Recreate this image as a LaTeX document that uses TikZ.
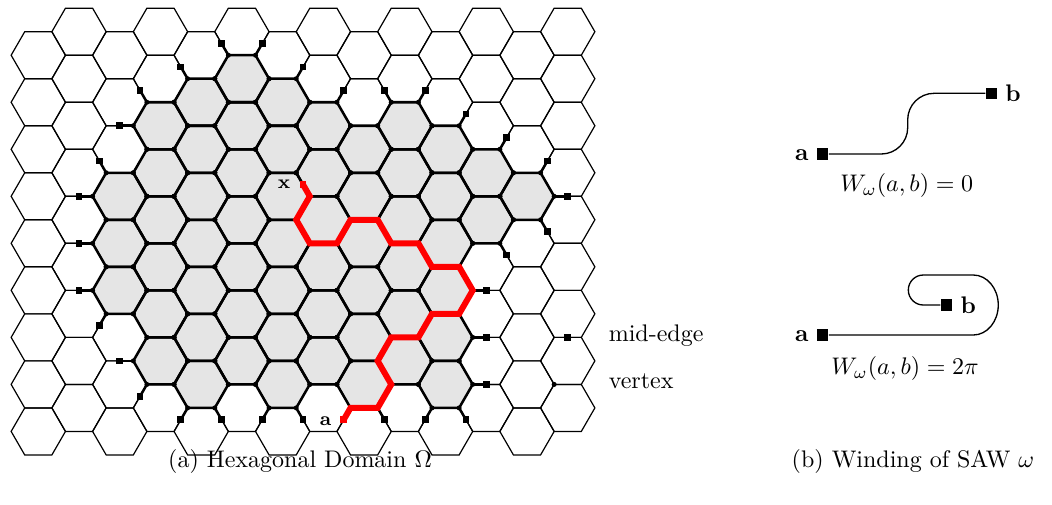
\documentclass[tikz,border=0pt]{standalone}
\usetikzlibrary{calc}
\begin{document}
\begin{tikzpicture}[x=0.41667pt,y=-0.41667pt,
  lat/.style={line width=0.5pt},
  boldedge/.style={line width=1.05pt},
  hexfill/.style={fill=black!10},
  redpath/.style={red,line width=2.5pt},
  sq/.style={rectangle,fill=black,inner sep=0pt,minimum size=2.8pt},
  redsq/.style={sq,fill=red},
  bsq/.style={rectangle,fill=black,inner sep=0pt,minimum size=4.8pt},
  curve/.style={line width=0.55pt},
  hexlbl/.style={font=\footnotesize\bfseries,inner sep=0pt,anchor=base},
  lbl/.style={inner sep=0pt,anchor=base}]
\useasboundingbox (0,0) rectangle (1052,504);
\def\hs{27.15}
% lattice coordinates
\foreach \c in {0,...,13}{
  \foreach \j in {0,...,8}{
    \pgfmathsetmacro\cx{38.3+40.725*\c}
    \pgfmathsetmacro\cy{31.7+23.513*(1-mod(\c,2))+47.026*\j}
    \coordinate (c-\c-\j) at (\cx,\cy);
    \foreach \k in {0,...,5}{
      \pgfmathsetmacro\vx{\cx+\hs*cos(60*\k)}
      \pgfmathsetmacro\vy{\cy-\hs*sin(60*\k)}
      \coordinate (v-\c-\j-\k) at (\vx,\vy);
    }
  }
}
\def\shaded{2/3/5,3/2/7,4/1/7,5/1/7,6/1/7,7/2/7,8/2/7,9/2/7,10/2/7,11/3/4,12/3/3}
% domain fill
\foreach \c/\a/\b in \shaded{
  \foreach \j in {\a,...,\b}{
    \fill[hexfill] (v-\c-\j-0) -- (v-\c-\j-1) -- (v-\c-\j-2) -- (v-\c-\j-3) -- (v-\c-\j-4) -- (v-\c-\j-5) -- cycle;
  }
}
% thin lattice
\foreach \c in {0,...,13}{
  \foreach \j in {0,...,8}{
    \draw[lat] (v-\c-\j-0) -- (v-\c-\j-1) -- (v-\c-\j-2) -- (v-\c-\j-3) -- (v-\c-\j-4) -- (v-\c-\j-5) -- cycle;
  }
}
% bold domain edges
\foreach \c/\a/\b in \shaded{
  \foreach \j in {\a,...,\b}{
    \draw[boldedge] (v-\c-\j-0) -- (v-\c-\j-1) -- (v-\c-\j-2) -- (v-\c-\j-3) -- (v-\c-\j-4) -- (v-\c-\j-5) -- cycle;
  }
}
% boundary half-edges
\def\ext{2/3/2,2/3/3,2/4/3,2/5/3,2/5/4,3/2/2,3/2/3,3/7/3,3/7/4,4/1/2,4/7/4,4/7/5,5/1/1,5/1/2,6/1/1,6/7/4,6/7/5,7/2/1,8/7/5,9/2/1,9/2/2,10/2/1,10/5/0,10/6/0,10/7/0,10/7/4,10/7/5,11/3/1,11/4/5,12/3/0,12/3/1,12/3/5,8/7/4}
\foreach \c/\j/\k in \ext{
  \draw[boldedge] (v-\c-\j-\k) -- ($(c-\c-\j)!1.5!(v-\c-\j-\k)$);
}
% vertex dots
\foreach \c/\a/\b in \shaded{
  \foreach \j in {\a,...,\b}{
    \foreach \k in {0,...,5}{
      \fill (v-\c-\j-\k) circle[radius=1.05pt];
    }
  }
}
% mid-edge squares
\foreach \c/\j/\k in \ext{
  \node[sq] at ($(c-\c-\j)!1.5!(v-\c-\j-\k)$) {};
}
% red path
\coordinate (pa) at ($(c-8-7)!1.5!(v-8-7-4)$);
\coordinate (px) at ($(v-7-3-4)!0.5!(v-7-3-3)$);
\draw[redpath] (pa) -- (v-8-7-4) -- (v-8-7-5) -- (v-8-7-0) -- (v-8-7-1) -- (v-8-6-0) -- (v-9-6-5) -- (v-9-6-0) -- (v-10-5-5) -- (v-10-5-0) -- (v-10-5-1) -- (v-10-5-2) -- (v-10-4-3) -- (v-9-4-4) -- (v-9-4-3) -- (v-7-4-0) -- (v-7-4-5) -- (v-7-4-4) -- (v-7-4-3) -- (v-7-3-4) -- (px);
\node[redsq] at (pa) {};
\node[redsq] at (px) {};
\node[hexlbl] (lx) at (284,188.3) {x};
\node[hexlbl] (la) at (325.7,425) {a};
% legend
\node[sq] (legsq) at ($(v-13-6-4)!0.5!(v-13-6-5)$) {};
\fill (v-13-7-4) circle[radius=1.05pt];
\node[inner sep=0pt,anchor=base west] (lme) at (608.3,341.7) {mid-edge};
\node[inner sep=0pt,anchor=base west] (lve) at (608.3,388.3) {vertex};
% panel b, first
\node[bsq] (pa1) at (822.7,154) {};
\node[bsq] (pb1) at (991.7,93.3) {};
\draw[curve,rounded corners=11pt] (pa1) -- (907.7,154) -- (907.7,93.3) -- (pb1);
\node[lbl,font=\bfseries] (ta1) at (801.7,160) {a};
\node[lbl,font=\bfseries] (tb1) at (1013,101.7) {b};
\node[lbl] (w1) at (906.7,191.5) {$W_\omega(a,b) = 0$};
% panel b, second
\node[bsq] (pa2) at (822.7,335) {};
\node[bsq] (pb2) at (946.7,305) {};
\draw[curve] (pa2) -- (973.3,335) arc[start angle=-90,end angle=90,x radius=10.4pt,y radius=12.5pt] -- (923.3,275) arc[start angle=90,end angle=270,radius=6.25pt] -- (pb2);
\node[lbl,font=\bfseries] (ta2) at (801.7,341.7) {a};
\node[lbl,font=\bfseries] (tb2) at (968.3,313.3) {b};
\node[lbl] (w2) at (905,374.7) {$W_\omega(a,b) = 2\pi$};
% captions
\node[lbl] (capa) at (300,467) {(a) Hexagonal Domain $\Omega$};
\node[lbl] (capb) at (913,467) {(b) Winding of SAW $\omega$};
\end{tikzpicture}
\end{document}
